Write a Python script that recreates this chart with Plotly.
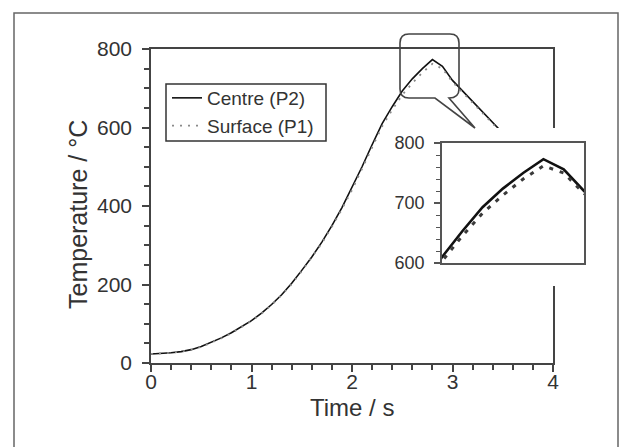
import plotly.graph_objects as go

# ---------------- data ----------------
time_s = [0.0, 0.1, 0.2, 0.3, 0.4, 0.5, 0.6, 0.7, 0.8, 0.9,
          1.0, 1.1, 1.2, 1.3, 1.4, 1.5, 1.6, 1.7, 1.8, 1.9,
          2.0, 2.1, 2.2, 2.3, 2.4, 2.5, 2.6, 2.7, 2.8, 2.9,
          3.0, 3.1, 3.2, 3.3, 3.4, 3.5]
centre_p2 = [23, 24, 26, 29, 34, 42, 52, 64, 77, 92,
             108, 127, 149, 174, 203, 236, 270, 308, 350, 396,
             446, 500, 556, 610, 653, 693, 724, 750, 773, 756,
             720, 693, 666, 640, 613, 586]
surface_p1 = [23, 24, 26, 29, 34, 41, 51, 63, 76, 91,
              107, 126, 148, 173, 201, 234, 268, 305, 347, 392,
              441, 494, 550, 603, 645, 683, 713, 740, 762, 750,
              716, 690, 663, 637, 610, 583]

main_x_ticks = [0, 1, 2, 3, 4]
main_y_ticks = [0, 200, 400, 600, 800]
inset_y_ticks = [600, 700, 800]
x_title = "Time / s"
y_title = "Temperature / °C"

# ---------------- layout helpers ----------------
W, H = 619, 447
def fx(p):
    return p / W
def fy(p):
    return 1 - p / H

FONT = "Liberation Sans, Arial, sans-serif"
AX = "#444444"
TXT = "#333333"

fig = go.Figure()

# main plot
fig.add_trace(go.Scatter(x=time_s, y=centre_p2, mode="lines", name="Centre (P2)",
                         line=dict(color="#111111", width=1.6), xaxis="x", yaxis="y"))
fig.add_trace(go.Scatter(x=time_s, y=surface_p1, mode="lines", name="Surface (P1)",
                         line=dict(color="#8a8a8a", width=1.8, dash="2px,6px"),
                         xaxis="x", yaxis="y"))
# white cover panel behind the inset
fig.add_trace(go.Scatter(x=[], y=[], showlegend=False, hoverinfo="skip",
                         xaxis="x2", yaxis="y2"))
# inset
fig.add_trace(go.Scatter(x=time_s, y=centre_p2, mode="lines", showlegend=False,
                         line=dict(color="#111111", width=2.6), xaxis="x3", yaxis="y3"))
fig.add_trace(go.Scatter(x=time_s, y=surface_p1, mode="lines", showlegend=False,
                         line=dict(color="#3a3a3a", width=3, dash="4px,7px"),
                         xaxis="x3", yaxis="y3"))

common_axis = dict(showgrid=False, zeroline=False, showline=True, linecolor=AX,
                   linewidth=1.5, mirror=True, ticks="outside", tickcolor=AX,
                   tickwidth=1.5, automargin=False,
                   tickfont=dict(family=FONT, size=21, color=TXT))

fig.update_layout(
    width=W, height=H,
    margin=dict(l=0, r=0, t=0, b=0, autoexpand=False),
    paper_bgcolor="white", plot_bgcolor="white",
    font=dict(family=FONT, color=TXT),
    showlegend=True,
    legend=dict(x=fx(167), y=fy(79), xanchor="left", yanchor="top",
                bgcolor="rgba(0,0,0,0)", borderwidth=0,
                font=dict(family=FONT, size=19, color=TXT), itemwidth=30,
                tracegroupgap=0),
    xaxis=dict(common_axis, domain=[fx(151), fx(553)], range=[0, 4],
               tickvals=main_x_ticks, ticklen=7, ticklabelstandoff=-8,
               minor=dict(dtick=0.2, ticks="outside", ticklen=5, tickcolor=AX, tickwidth=1.5),
               anchor="y"),
    yaxis=dict(common_axis, domain=[fy(363), fy(49)], range=[0, 800],
               tickvals=main_y_ticks, ticklen=7, ticklabelstandoff=6,
               minor=dict(dtick=50, ticks="outside", ticklen=5, tickcolor=AX, tickwidth=1.5),
               anchor="x"),
    xaxis2=dict(domain=[fx(398), fx(606)], range=[0, 1], visible=False, anchor="y2",
                automargin=False),
    yaxis2=dict(domain=[fy(286), fy(128)], range=[0, 1], visible=False, anchor="x2",
                automargin=False),
    xaxis3=dict(common_axis, domain=[fx(442), fx(584)], range=[2.3, 3.0],
                showticklabels=False, ticks="", anchor="y3", linecolor="#555555"),
    yaxis3=dict(common_axis, domain=[fy(263), fy(143)], range=[600, 800],
                tickvals=inset_y_ticks, ticklen=6, linecolor="#555555", tickcolor="#555555",
                tickfont=dict(family=FONT, size=18, color=TXT), ticklabelstandoff=6,
                minor=dict(dtick=20, ticks="outside", ticklen=4, tickcolor="#555555", tickwidth=1.3),
                anchor="x3"),
)

# axis titles
fig.add_annotation(text=x_title, xref="paper", yref="paper", x=fx(352), y=fy(407),
                   xanchor="center", yanchor="middle", showarrow=False,
                   font=dict(family=FONT, size=24, color=TXT))
fig.add_annotation(text=y_title, xref="paper", yref="paper", x=fx(78), y=fy(215),
                   xanchor="center", yanchor="middle", showarrow=False, textangle=-90,
                   font=dict(family=FONT, size=25, color=TXT))

# legend frame
fig.add_shape(type="rect", xref="paper", yref="paper", x0=fx(166), x1=fx(326), y0=fy(141), y1=fy(84),
              line=dict(color="#333333", width=1.5), fillcolor="white", layer="below")

# callout bubble (rounded box with pointer), in pixel -> paper coordinates
L, R, T, B, r = 400, 459, 34, 98, 9
tail_a, tail_b, tip = 435, 449, (475, 128)
pts = [
    ("M", [(L + r, T)]), ("L", [(R - r, T)]), ("Q", [(R, T), (R, T + r)]),
    ("L", [(R, B - r)]), ("Q", [(R, B), (tail_b, B)]), ("L", [tip]),
    ("L", [(tail_a, B)]), ("L", [(L + r, B)]), ("Q", [(L, B), (L, B - r)]),
    ("L", [(L, T + r)]), ("Q", [(L, T), (L + r, T)]),
]
path = " ".join(cmd + " " + " ".join(f"{fx(a):.5f},{fy(b):.5f}" for a, b in p) for cmd, p in pts) + " Z"
fig.add_shape(type="path", path=path, xref="paper", yref="paper",
              line=dict(color="#444444", width=1.6), fillcolor="rgba(0,0,0,0)", layer="above")

# outer frame
fig.add_shape(type="rect", xref="paper", yref="paper", x0=fx(14), x1=fx(618), y0=fy(449), y1=fy(13),
              line=dict(color="#666666", width=1.5), fillcolor="rgba(0,0,0,0)", layer="below")

fig.write_html("out.html")
